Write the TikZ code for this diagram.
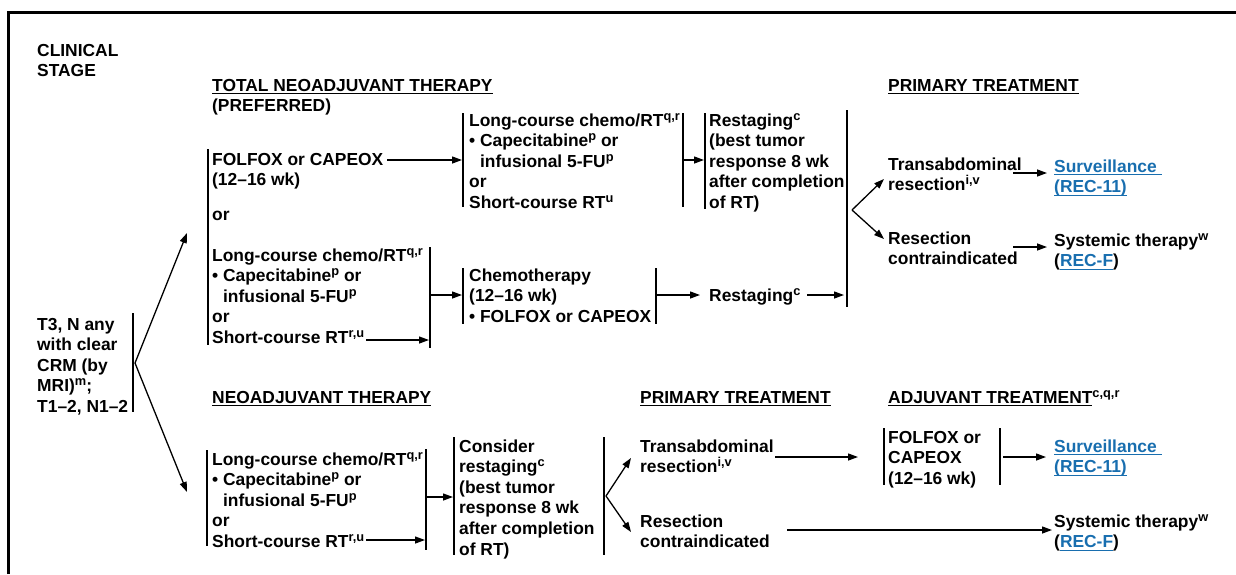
\documentclass[tikz,border=0pt]{standalone}
\usepackage{fontspec}
\setmainfont{Liberation Sans}
\usetikzlibrary{arrows.meta}
\definecolor{linkblue}{RGB}{24,110,175}
% superscript footnote letters, kept from pushing lines apart
\newcommand\sps[1]{\smash{\raisebox{6pt}{\fontsize{12.8}{12.8}\selectfont #1}}}
% underline drawn as a rule below the baseline
\newcommand\ul[1]{\leavevmode\setbox0\hbox{#1}\rlap{\rule[-3.2pt]{\wd0}{1.3pt}}\box0}
\newcommand\lnk[1]{\textcolor{linkblue}{\ul{#1}}}
% left-aligned stack of lines, anchored at the first baseline
\newcommand\stk[1]{\begin{tabular}[t]{@{}l@{}}#1\end{tabular}}
\begin{document}
\begin{tikzpicture}[x=1pt,y=-1pt,
  txt/.style={inner sep=0pt,anchor=base west,font=\fontsize{17.4}{20.6}\selectfont\bfseries},
  arr/.style={line width=1.3pt,-{Triangle[length=10pt,width=7pt]}},
  brk/.style={line width=1.5pt}]
\path[use as bounding box] (0,0) rectangle (1236,574);
\draw[line width=3pt] (8,574) -- (8,12) -- (1236,12);

% headings
\node[txt] (cs)  at (37,56)  {\stk{CLINICAL\\STAGE}};
\node[txt] (tnt) at (212,91) {\stk{\ul{TOTAL NEOADJUVANT THERAPY}\\(PREFERRED)}};
\node[txt] (pt1) at (888,91) {\ul{PRIMARY TREATMENT}};
\node[txt] (neo) at (212,403) {\ul{NEOADJUVANT THERAPY}};
\node[txt] (pt2) at (640,403) {\ul{PRIMARY TREATMENT}};
\node[txt] (adj) at (888,403) {\ul{ADJUVANT TREATMENT}\sps{c,q,r}};

% clinical stage and the split into the two pathways
\node[txt] (stg) at (37,330) {\stk{T3, N any\\with clear\\CRM (by\\MRI)\sps{m};\\T1--2, N1--2}};
\draw[brk] (133,313) coordinate (stgT) -- (133,412) coordinate (stgB);
\coordinate (stgF) at (135,363);
\coordinate (tntIn) at (187,233);
\coordinate (neoIn) at (187,492);
\draw[arr] (stgF) -- (tntIn);
\draw[arr] (stgF) -- (neoIn);

% ---- total neoadjuvant therapy ----
\draw[brk] (208,149) -- (208,345);
\node[txt] (fc)  at (212,165) {\stk{FOLFOX or CAPEOX\\(12--16 wk)}};
\node[txt] (or1) at (212,220) {or};
\node[txt] (lc1) at (212,261) {\stk{Long-course chemo/RT\sps{q,r}\\• Capecitabine\sps{p} or\\\phantom{• }infusional 5-FU\sps{p}\\or\\Short-course RT\sps{r,u}}};

% chemo first, then chemo/RT
\coordinate (fcOut) at (387,160);
\draw[brk] (463,113) coordinate (lc2L) -- (463,207);
\coordinate (lc2In) at (462,160);
\draw[arr] (fcOut) -- (lc2In);
\node[txt] (lc2) at (469,126) {\stk{Long-course chemo/RT\sps{q,r}\\• Capecitabine\sps{p} or\\\phantom{• }infusional 5-FU\sps{p}\\or\\Short-course RT\sps{u}}};
\draw[brk] (683,113) -- (683,207);
\coordinate (lc2Out) at (683,160);
\coordinate (rs1In) at (704,160);
\draw[arr] (lc2Out) -- (rs1In);
\draw[brk] (705,113) -- (705,209);
\node[txt] (rs1) at (709,126) {\stk{Restaging\sps{c}\\(best tumor\\response 8 wk\\after completion\\of RT)}};

% chemo/RT first, then chemo
\coordinate (lc1Out) at (366,340);
\coordinate (lc1In) at (429,340);
\draw[arr] (lc1Out) -- (lc1In);
\draw[brk] (430,247) -- (430,348);
\coordinate (lc1R) at (430,295);
\coordinate (chIn) at (462,295);
\draw[arr] (lc1R) -- (chIn);
\draw[brk] (463,268) -- (463,324);
\node[txt] (ch) at (469,281) {\stk{Chemotherapy\\(12--16 wk)\\• FOLFOX or CAPEOX}};
\draw[brk] (656,268) -- (656,324);
\coordinate (chOut) at (657,295);
\coordinate (rs2In) at (700,295);
\draw[arr] (chOut) -- (rs2In);
\node[txt] (rs2) at (709,301) {Restaging\sps{c}};
\coordinate (rs2Out) at (807,295);
\coordinate (jnIn) at (844,295);
\draw[arr] (rs2Out) -- (jnIn);

% primary treatment after total neoadjuvant therapy
\draw[brk] (847,110) -- (847,307);
\coordinate (ptF) at (852,210);
\coordinate (tr1In) at (884,179);
\coordinate (rc1In) at (884,239);
\draw[arr] (ptF) -- (tr1In);
\draw[arr] (ptF) -- (rc1In);
\node[txt] (tr1) at (888,170) {\stk{Transabdominal\\resection\sps{i,v}}};
\node[txt] (rc1) at (888,244) {\stk{Resection\\contraindicated}};
\coordinate (tr1Out) at (1013,173);
\coordinate (sv1In) at (1047,173);
\draw[arr] (tr1Out) -- (sv1In);
\coordinate (rc1Out) at (1013,247);
\coordinate (sy1In) at (1047,247);
\draw[arr] (rc1Out) -- (sy1In);
\node[txt] (sv1) at (1054,172) {\stk{\lnk{Surveillance\ }\\\lnk{(REC-11)}}};
\node[txt] (sy1) at (1054,246) {\stk{Systemic therapy\sps{w}\\(\lnk{REC-F})}};

% ---- neoadjuvant therapy ----
\draw[brk] (207,450) -- (207,546);
\node[txt] (lc3) at (212,465) {\stk{Long-course chemo/RT\sps{q,r}\\• Capecitabine\sps{p} or\\\phantom{• }infusional 5-FU\sps{p}\\or\\Short-course RT\sps{r,u}}};
\coordinate (lc3Out) at (366,540);
\coordinate (lc3In) at (425,540);
\draw[arr] (lc3Out) -- (lc3In);
\draw[brk] (426,449) -- (426,550);
\coordinate (lc3R) at (426,497);
\coordinate (csIn) at (453,497);
\draw[arr] (lc3R) -- (csIn);
\draw[brk] (454,437) -- (454,555);
\node[txt] (cons) at (459,452) {\stk{Consider\\restaging\sps{c}\\(best tumor\\response 8 wk\\after completion\\of RT)}};
\draw[brk] (604,437) -- (604,555);
\coordinate (pt2F) at (606,496);
\coordinate (tr2In) at (631,458);
\coordinate (rc2In) at (631,532);
\draw[arr] (pt2F) -- (tr2In);
\draw[arr] (pt2F) -- (rc2In);
\node[txt] (tr2) at (640,452) {\stk{Transabdominal\\resection\sps{i,v}}};
\node[txt] (rc2) at (640,527) {\stk{Resection\\contraindicated}};

% adjuvant treatment
\coordinate (tr2Out) at (775,457);
\coordinate (adIn) at (858,457);
\draw[arr] (tr2Out) -- (adIn);
\draw[brk] (884,428) -- (884,485);
\node[txt] (fol2) at (888,443) {\stk{FOLFOX or\\CAPEOX\\(12--16 wk)}};
\draw[brk] (1000,428) -- (1000,485);
\coordinate (adOut) at (1003,457);
\coordinate (sv2In) at (1046,457);
\draw[arr] (adOut) -- (sv2In);
\node[txt] (sv2) at (1054,452) {\stk{\lnk{Surveillance\ }\\\lnk{(REC-11)}}};
\coordinate (rc2Out) at (787,530);
\coordinate (sy2In) at (1052,530);
\draw[arr] (rc2Out) -- (sy2In);
\node[txt] (sy2) at (1054,527) {\stk{Systemic therapy\sps{w}\\(\lnk{REC-F})}};
\end{tikzpicture}
\end{document}
